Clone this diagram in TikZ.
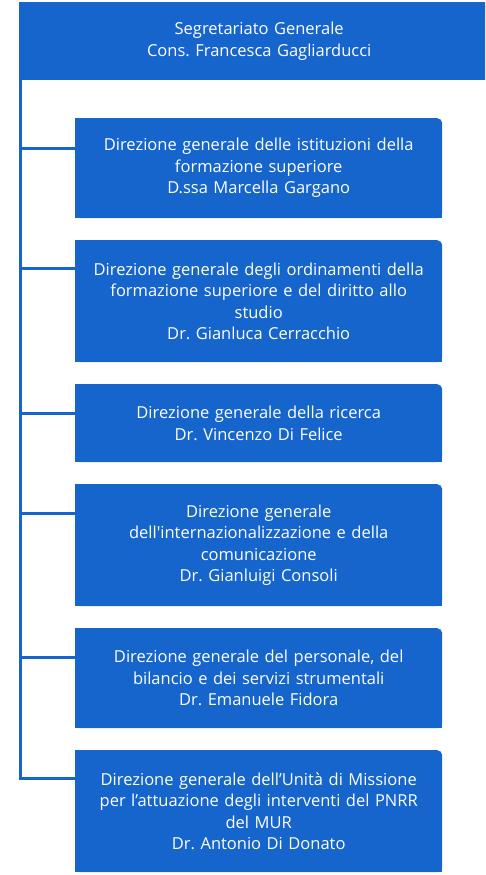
\documentclass[tikz,border=0pt]{standalone}
\usepackage{fontspec}
\setmainfont{Open Sans}[Ligatures=TeXOff]
\frenchspacing
\definecolor{mblue}{HTML}{1565CC}
\begin{document}
\begin{tikzpicture}[x=1pt,y=-1pt,
  box/.style={fill=mblue, rounded corners=5pt, text=white, align=center,
    text width=363pt, minimum width=367pt, inner xsep=2pt, inner ysep=0pt,
    anchor=north west, font=\fontsize{16.5}{21.5}\selectfont},
  head/.style={fill=mblue, text=white, align=center, text width=464pt,
    minimum width=480pt, inner xsep=8pt, inner ysep=0pt, anchor=north west,
    font=\fontsize{16.5}{21.5}\selectfont},
  link/.style={draw=mblue, line width=3pt}]
\useasboundingbox (0,0) rectangle (485,875);
\begin{scope}
\clip (0,0) rectangle (485,875);
\node[head, minimum height=78pt] (h) at (19,2) {Segretariato Generale\\Cons. Francesca Gagliarducci};
\end{scope}
\node[box, minimum height=100pt] (b1) at (75,118) {Direzione generale delle istituzioni della\\formazione superiore\\D.ssa Marcella Gargano};
\node[box, minimum height=122pt] (b2) at (75,240) {Direzione generale degli ordinamenti della\\formazione superiore e del diritto allo\\studio\\Dr. Gianluca Cerracchio};
\node[box, minimum height=78pt] (b3) at (75,384) {Direzione generale della ricerca\\Dr. Vincenzo Di Felice};
\node[box, minimum height=122pt] (b4) at (75,484) {Direzione generale\\dell'internazionalizzazione e della\\comunicazione\\Dr. Gianluigi Consoli};
\node[box, minimum height=100pt] (b5) at (75,628) {Direzione generale del personale, del\\bilancio e dei servizi strumentali\\Dr. Emanuele Fidora};
\node[box, minimum height=122pt] (b6) at (75,750) {Direzione generale dell’Unità di Missione\\per l’attuazione degli interventi del PNRR\\del MUR\\Dr. Antonio Di Donato};
\foreach \n in {b1,b2,b3,b4,b5,b6} {
  \fill[mblue] (\n.south west) rectangle ([xshift=8pt]\n.north west);
  \fill[mblue] (\n.south east) rectangle ([xshift=-8pt,yshift=8pt]\n.south east);
}
\coordinate (top) at ([xshift=1.5pt]h.south west);
\foreach \n/\d in {b1/30,b2/28,b3/29,b4/29,b5/29,b6/28} {
  \coordinate (c\n) at ([yshift=-\d pt]\n.north west);
}
\draw[link] (top) |- (cb6);
\foreach \n in {b1,b2,b3,b4,b5} {
  \draw[link] (top |- c\n) -- (c\n);
}
\end{tikzpicture}
\end{document}
